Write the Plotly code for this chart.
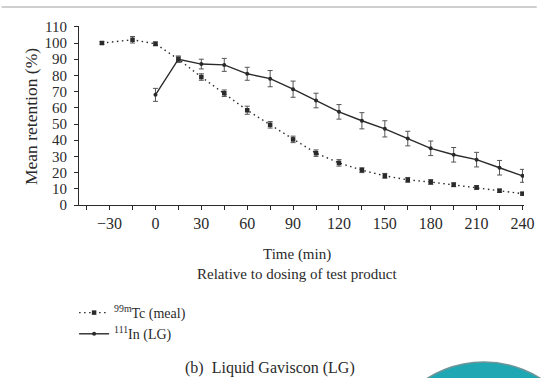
import plotly.graph_objects as go

# Sampling times (min, relative to dosing of test product)
tc_time = [-35, -15, 0, 15, 30, 45, 60, 75, 90, 105, 120, 135, 150, 165, 180, 195, 210, 225, 240]
tc_mean = [100, 102, 99.5, 90, 79, 69, 58.5, 49.5, 40.5, 32, 26, 21.5, 18, 15.5, 14.2, 12.5, 10.8, 8.8, 7]
tc_err = [0.8, 2, 1.2, 1.5, 2, 2, 2.5, 2, 2, 2, 2, 1.5, 1.5, 1.5, 1.5, 1.2, 1.2, 1, 0.8]

lg_time = [0, 15, 30, 45, 60, 75, 90, 105, 120, 135, 150, 165, 180, 195, 210, 225, 240]
lg_mean = [68, 90, 87, 86.5, 81, 78, 71.5, 64.5, 57.5, 52, 47, 41, 35, 31, 28, 23, 18]
lg_err = [4, 2, 3, 4, 4, 5, 5, 4.5, 4.5, 5, 5, 4.5, 4.5, 4.5, 4.5, 4.5, 4]

x_ticks = list(range(-30, 241, 30))
x_labels = [str(v).replace("-", "\u2212") for v in x_ticks]
y_ticks = list(range(0, 111, 10))

FONT = "Liberation Serif"
INK = "#2a2a2a"

W, H = 546, 378
ML, MR, MT, MB = 79, 13, 26, 173

fig = go.Figure()

fig.add_trace(go.Scatter(
    x=tc_time, y=tc_mean, name="<sup>99m</sup>Tc (meal)",
    mode="lines+markers",
    line=dict(color=INK, width=1.4, dash="1.5px,3.5px"),
    marker=dict(symbol="square", size=4.5, color=INK),
    error_y=dict(type="data", array=tc_err, color="#555", thickness=1, width=2.5),
))
fig.add_trace(go.Scatter(
    x=lg_time, y=lg_mean, name="<sup>111</sup>In (LG)",
    mode="lines+markers",
    line=dict(color=INK, width=1.4),
    marker=dict(symbol="circle", size=4, color=INK),
    error_y=dict(type="data", array=lg_err, color="#555", thickness=1, width=2.5),
))

fig.update_xaxes(
    range=[-50, 241], tickvals=x_ticks, ticktext=x_labels,
    showline=True, linecolor=INK, linewidth=1.2, ticks="outside",
    ticklen=4, tickcolor=INK, showgrid=False, zeroline=False,
    minor=dict(tick0=-45, dtick=15, ticks="outside", ticklen=4,
               tickcolor=INK, showgrid=False),
    tickfont=dict(family=FONT, size=16, color=INK),
)
fig.update_yaxes(
    range=[0, 110.5], tickvals=y_ticks,
    showline=True, linecolor=INK, linewidth=1.2, ticks="outside",
    ticklen=4, tickcolor=INK, showgrid=False, zeroline=False,
    ticklabelstandoff=4,
    tickfont=dict(family=FONT, size=15, color=INK),
)

plot_h = H - MT - MB
plot_w = W - ML - MR


def py(pixel_y):
    # pixel row -> paper y coordinate
    return (H - MB - pixel_y) / plot_h


def px(pixel_x):
    # pixel column -> paper x coordinate
    return (pixel_x - ML) / plot_w


def label(text, x, y, size, angle=0):
    return dict(text=text, textangle=angle, x=px(x), y=py(y),
                xref="paper", yref="paper", showarrow=False,
                xanchor="center", yanchor="middle",
                font=dict(family=FONT, size=size, color=INK))


annotations = [
    label("Mean retention (%)", 30, 116, 17.5, angle=-90),
    label("Time (min)", 301, 254, 15),
    label("Relative to dosing of test product", 301, 274, 15),
    label("(b)  Liquid Gaviscon (LG)", 274, 368, 16),
]

shapes = [
    # thin rule across the top of the page
    dict(type="line", xref="paper", yref="paper", x0=px(0), x1=px(W),
         y0=py(7), y1=py(7), line=dict(color="#cfcfcf", width=2)),
    # decorative teal disc in the lower right corner
    dict(type="circle", xref="paper", yref="paper",
         x0=px(492 - 110), x1=px(492 + 110), y0=py(362 + 220), y1=py(362),
         fillcolor="#1fa8b3", line=dict(color="#6f9599", width=1.5), layer="below"),
]

fig.update_layout(
    width=W, height=H,
    margin=dict(l=ML, r=MR, t=MT, b=MB),
    paper_bgcolor="white", plot_bgcolor="white",
    showlegend=True,
    legend=dict(x=px(74), y=py(297), xanchor="left", yanchor="top",
                font=dict(family=FONT, size=14, color=INK),
                bgcolor="rgba(0,0,0,0)", itemwidth=30, tracegroupgap=0),
    annotations=annotations, shapes=shapes,
)

fig.write_html("out.html")
